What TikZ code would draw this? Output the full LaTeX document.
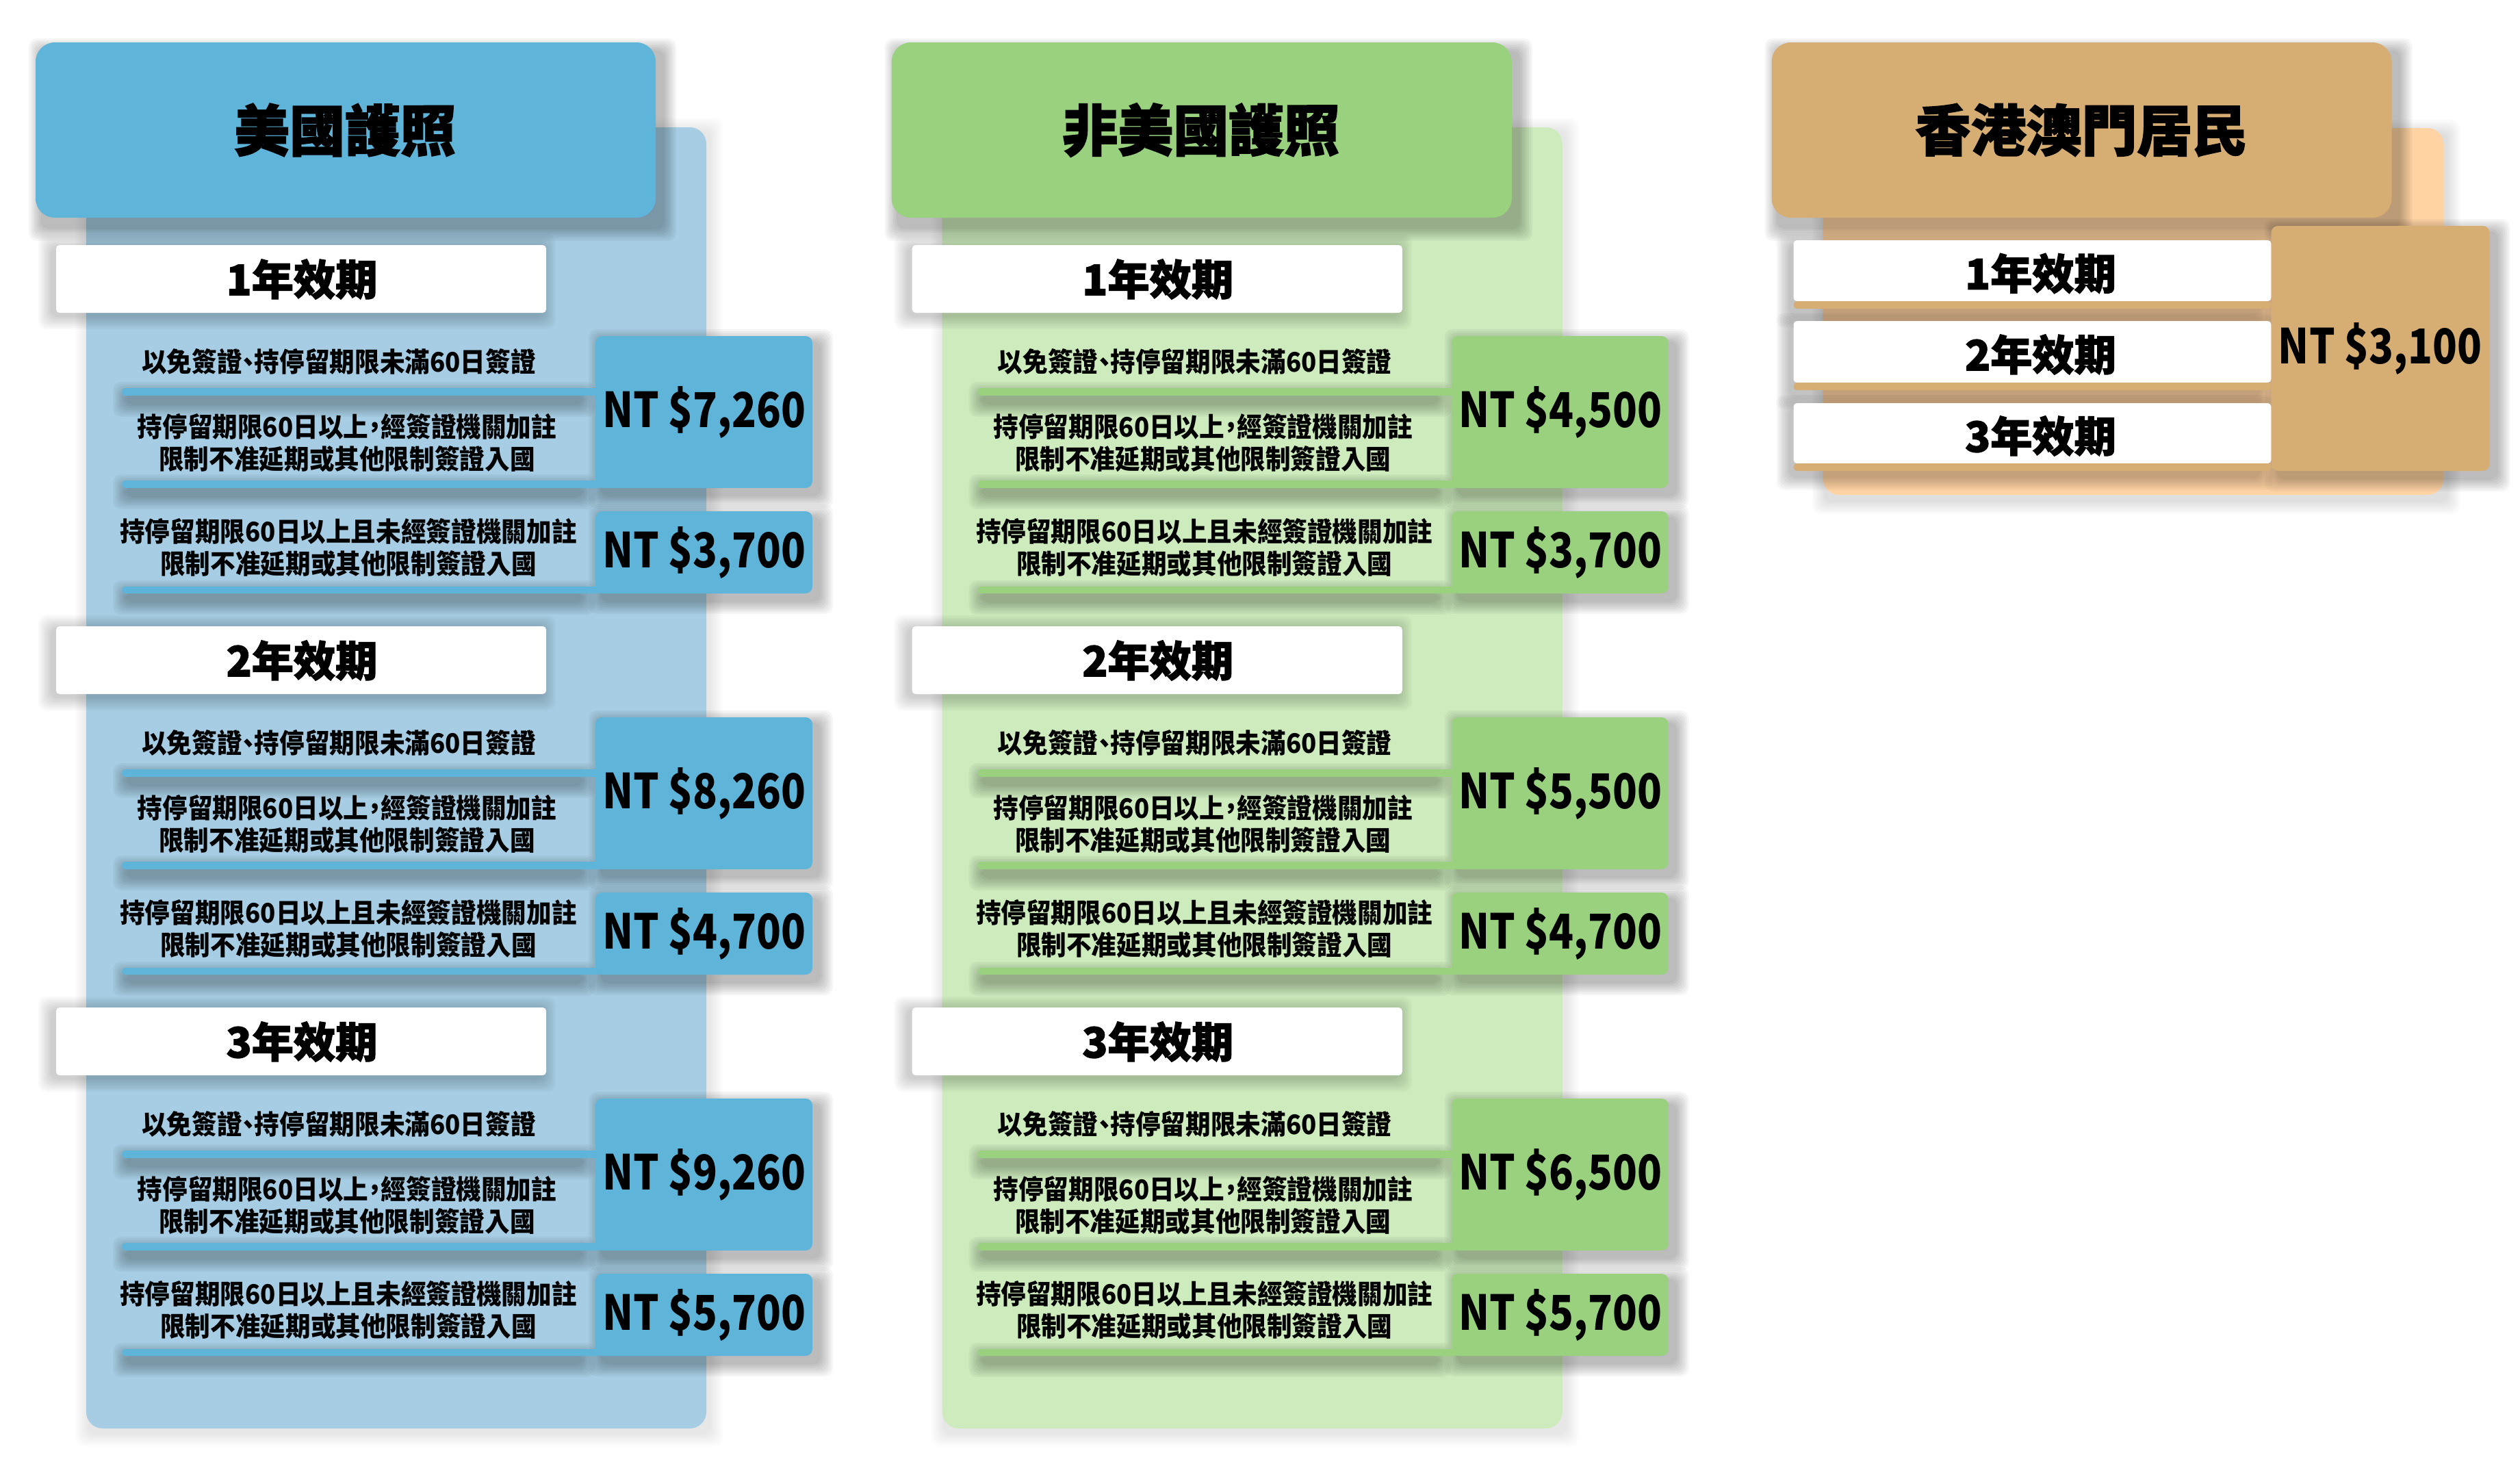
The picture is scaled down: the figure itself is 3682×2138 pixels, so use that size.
\documentclass[tikz,border=0pt]{standalone}
\usepackage{fontspec}
\setmainfont{Noto Sans CJK TC}
\newfontfamily\heavyfont{Noto Sans CJK TC}[BoldFeatures={FakeBold=2}]
\definecolor{usD}{HTML}{5EB4D9}
\definecolor{usL}{HTML}{A6CDE3}
\definecolor{grD}{HTML}{99D17F}
\definecolor{grL}{HTML}{CDEBBD}
\definecolor{hkD}{HTML}{D6AE74}
\definecolor{hkL}{HTML}{FFD3A3}
\tikzset{
  titletext/.style={font=\fontsize{23}{28}\heavyfont\bfseries, text=black, inner sep=0pt},
  periodtext/.style={font=\fontsize{17.4}{21}\heavyfont\bfseries, text=black, inner sep=0pt},
  rowtext/.style={font=\fontsize{11.2}{13.1}\selectfont\bfseries, text=black, align=center, inner sep=0pt, xscale=0.93},
  pricetext/.style={font=\fontsize{20}{24}\selectfont\bfseries, text=black, inner sep=0pt, xscale=0.84},
}
\newcommand\hw[1]{\makebox[0.5em][c]{#1}}
% soft shadow: [opacity]{x1}{y1}{x2}{y2}{dx}{dy}
\newcommand\sshadow[7][0.035]{%
  \foreach \k in {1,...,8}{%
    \fill[black, opacity=#1, rounded corners=0.12cm]
      ({#2+#6-2.5*\k},{#3+#7-2.5*\k}) rectangle ({#4+#6+2.5*\k},{#5+#7+2.5*\k});
  }}
% column base: {prefix}{title}{panel bottom}
\newcommand\colbase[3]{%
  \sshadow[0.01]{126}{186}{1032}{#3}{4}{6}
  \fill[#1L, rounded corners=0.24cm] (126,186) rectangle (1032,#3);
  \sshadow{52}{62}{958}{318}{10}{14}
  \fill[#1D, rounded corners=0.28cm] (52,62) rectangle (958,318);
  \node[titletext] (#1-title) at (504,190) {#2};
}
% group: {prefix}{year}{top}{price1}{price2}
\newcommand\pgroup[5]{%
  \sshadow[0.025]{82}{#3}{798}{#3+99}{-6}{4}
  \fill[white, rounded corners=0.05cm] (82,#3) rectangle (798,{#3+99});
  \node[periodtext] (#1-y#2) at (441,{#3+50}) {#2年效期};
  % shadows
  \sshadow{185}{#3+209}{850}{#3+220}{0}{11}
  \sshadow{185}{#3+344}{850}{#3+355}{0}{11}
  \sshadow{185}{#3+499}{850}{#3+509}{0}{11}
  \sshadow{870}{#3+133}{1187}{#3+355}{10}{10}
  \sshadow{870}{#3+389}{1187}{#3+509}{10}{10}
  % bars
  \fill[#1D, rounded corners=0.05cm] (178,{#3+209}) rectangle (880,{#3+220});
  \fill[#1D, rounded corners=0.05cm] (178,{#3+344}) rectangle (880,{#3+355});
  \fill[#1D, rounded corners=0.05cm] (178,{#3+499}) rectangle (880,{#3+509});
  % price boxes
  \fill[#1D, rounded corners=0.1cm] (870,{#3+133}) rectangle (1187,{#3+355});
  \fill[#1D, rounded corners=0.1cm] (870,{#3+389}) rectangle (1187,{#3+509});
  \node[pricetext] (#1-g#2-p1) at (1029,{#3+244}) {NT \$#4};
  \node[pricetext] (#1-g#2-p2) at (1029,{#3+449}) {NT \$#5};
  % rows
  \node[rowtext] (#1-g#2-r1) at (495,{#3+170}) {以免簽證\hw{、}持停留期限未滿60日簽證};
  \node[rowtext] (#1-g#2-r2) at (507,{#3+289}) {持停留期限60日以上\hw{，}經簽證機關加註\\限制不准延期或其他限制簽證入國};
  \node[rowtext] (#1-g#2-r3) at (509,{#3+442}) {持停留期限60日以上且未經簽證機關加註\\限制不准延期或其他限制簽證入國};
}
% HK period shadow: {year}{top}{bottom}
\newcommand\hkperiod[3]{%
  \sshadow[0.03]{84}{#2}{770}{#3+11}{-5}{8}
}
\newcommand\hkperiodfill[3]{%
  \fill[white, rounded corners=0.05cm] (84,#2) rectangle (782,#3);
  \fill[hkD, rounded corners=0.05cm] (84,#3) rectangle (782,{#3+11});
  \node[periodtext] (hk-y#1) at (445,{(#2+#3)/2+4}) {#1年效期};
}
\begin{document}
\begin{tikzpicture}[x=0.01cm, y=-0.01cm]
  \useasboundingbox (0,0) rectangle (3682,2138);
  \fill[white] (0,0) rectangle (3682,2138);

  % US passport column
  \begin{scope}
    \colbase{us}{美國護照}{2087}
    \pgroup{us}{1}{358}{7,260}{3,700}
    \pgroup{us}{2}{915}{8,260}{4,700}
    \pgroup{us}{3}{1472}{9,260}{5,700}
  \end{scope}

  % non-US passport column
  \begin{scope}[xshift=12.5cm]
    \colbase{gr}{非美國護照}{2087}
    \pgroup{gr}{1}{358}{4,500}{3,700}
    \pgroup{gr}{2}{915}{5,500}{4,700}
    \pgroup{gr}{3}{1472}{6,500}{5,700}
  \end{scope}

  % HK / Macau column
  \begin{scope}[xshift=25.35cm]
    \sshadow[0.015]{127}{187}{1034}{723}{4}{8}
    \fill[hkL, rounded corners=0.24cm] (127,187) rectangle (1034,723);
    \sshadow{52}{62}{958}{318}{10}{14}
    \fill[hkD, rounded corners=0.28cm] (52,62) rectangle (958,318);
    \node[titletext] (hk-title) at (505,190) {香港澳門居民};
    \hkperiod{1}{351}{440}
    \hkperiod{2}{469}{559}
    \hkperiod{3}{589}{677}
    \sshadow{782}{330}{1101}{688}{10}{10}
    \hkperiodfill{1}{351}{440}
    \hkperiodfill{2}{469}{559}
    \hkperiodfill{3}{589}{677}
    \fill[hkD, rounded corners=0.1cm] (782,330) rectangle (1101,688);
    \node[pricetext] (hk-p) at (941,509) {NT \$3,100};
  \end{scope}
\end{tikzpicture}
\end{document}
